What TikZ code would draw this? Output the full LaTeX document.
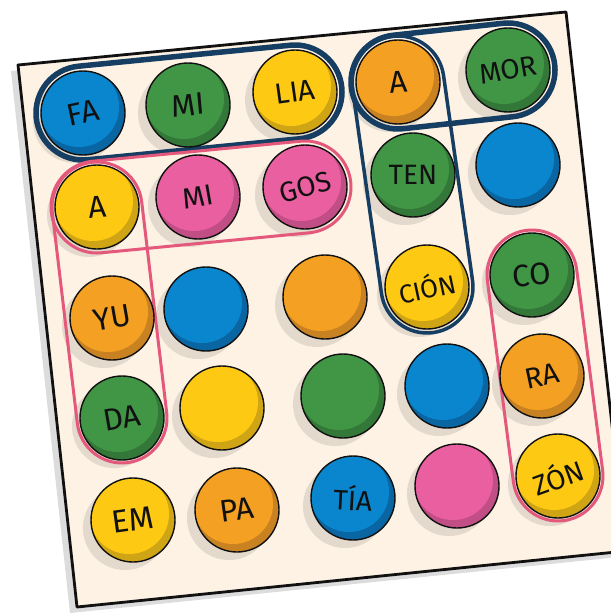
\documentclass[tikz,border=0pt]{standalone}
\usepackage{fontspec}
\setmainfont{Fira Sans}
\usetikzlibrary{calc}
\definecolor{boardc}{HTML}{FDF2E4}
\definecolor{framec}{HTML}{111111}
\definecolor{bshadow}{HTML}{DCDCDC}
\definecolor{ballshadow}{HTML}{E3D9CC}
\definecolor{blueL}{HTML}{0A86CE}\definecolor{blueD}{HTML}{0A66A3}
\definecolor{greenL}{HTML}{419646}\definecolor{greenD}{HTML}{337838}
\definecolor{yellowL}{HTML}{FDC912}\definecolor{yellowD}{HTML}{CFA516}
\definecolor{orangeL}{HTML}{F4A023}\definecolor{orangeD}{HTML}{C98222}
\definecolor{pinkL}{HTML}{EA5FA0}\definecolor{pinkD}{HTML}{C14E85}
\definecolor{navyc}{HTML}{163D62}
\definecolor{pinkc}{HTML}{E4587C}
\newcommand\stad[4]{%
 \draw[#1, rounded corners=#4]
   ($($(#2)!-#4!(#3)$)!#4!90:(#3)$) --
   ($($(#3)!-#4!(#2)$)!#4!-90:(#2)$) --
   ($($(#3)!-#4!(#2)$)!#4!90:(#2)$) --
   ($($(#2)!-#4!(#3)$)!#4!-90:(#3)$) -- cycle;}
\begin{document}
\begin{tikzpicture}[x=1pt,y=-1pt,
  ball/.style={circle, minimum size=84pt, inner sep=0pt, draw=framec, line width=1.4pt,
     fill=#1D, path picture={\fill[#1L] ($(path picture bounding box.center)+(-4,-6)$) circle[radius=40];}},
  word/.style={font=\fontsize{31}{31}\selectfont, text=framec, inner sep=0pt},
  navyline/.style={draw=navyc, line width=5.5pt, line join=round},
  navythin/.style={draw=navyc, line width=3.5pt, line join=round},
  pinkline/.style={draw=pinkc, line width=3pt, line join=round}]
\useasboundingbox (0,0) rectangle (610,615);
% board
\coordinate (bTL) at (18,65);
\coordinate (bTR) at (566,12);
\coordinate (bBR) at (626,551);
\coordinate (bBL) at (77,607);
\fill[bshadow] ($(bTL)+(-7,6)$) -- ($(bTR)+(-7,6)$) -- ($(bBR)+(-7,6)$) -- ($(bBL)+(-7,6)$) -- cycle;
\draw[fill=boardc, draw=framec, line width=2.8pt, line join=round] (bTL) -- (bTR) -- (bBR) -- (bBL) -- cycle;
% ball centres
\coordinate (c11) at (83,113);  \coordinate (c12) at (188,105); \coordinate (c13) at (295,92);
\coordinate (c14) at (398,82);  \coordinate (c15) at (508,70);
\coordinate (c21) at (97,207);  \coordinate (c22) at (198,197); \coordinate (c23) at (305,187);
\coordinate (c24) at (413,175); \coordinate (c25) at (518,165);
\coordinate (c31) at (112,318); \coordinate (c32) at (206,309); \coordinate (c33) at (325,297);
\coordinate (c34) at (427,287); \coordinate (c35) at (532,275);
\coordinate (c41) at (122,418); \coordinate (c42) at (222,408); \coordinate (c43) at (343,396);
\coordinate (c44) at (447,386); \coordinate (c45) at (542,376);
\coordinate (c51) at (133,520); \coordinate (c52) at (237,510); \coordinate (c53) at (353,498);
\coordinate (c54) at (457,486); \coordinate (c55) at (558,476);
% ball shadows
\foreach \c in {11,12,13,14,15,21,22,23,24,25,31,32,33,34,35,41,42,43,44,45,51,52,53,54,55}
  \fill[ballshadow] ($(c\c)+(-8,8)$) circle[radius=42];
% word outlines
\stad{navyline}{c11}{c13}{47pt}
\stad{navyline}{c14}{c15}{47pt}
\stad{navythin}{c14}{c34}{46pt}
\stad{pinkline}{c21}{c23}{46pt}
\stad{pinkline}{c21}{c41}{45pt}
\stad{pinkline}{c35}{c55}{45pt}
% balls
\node[ball=blue,   label={[word,rotate=12]center:FA}]  (FA)   at (c11) {};
\node[ball=green,  label={[word,rotate=5]center:MI}]   (MIa)  at (c12) {};
\node[ball=yellow, label={[word,rotate=8,font=\fontsize{29}{29}\selectfont]center:LIA}]  (LIA)  at (c13) {};
\node[ball=orange, label={[word,rotate=5]center:A}]    (Aa)   at (c14) {};
\node[ball=green,  label={[word,rotate=10,font=\fontsize{28}{28}\selectfont]center:MOR}] (MOR) at (c15) {};
\node[ball=yellow, label={[word,rotate=5]center:A}]    (Ab)   at (c21) {};
\node[ball=pink,   label={[word,rotate=10,font=\fontsize{29}{29}\selectfont]center:MI}] (MIb) at (c22) {};
\node[ball=pink,   label={[word,rotate=15,font=\fontsize{28}{28}\selectfont]center:GOS}] (GOS) at (c23) {};
\node[ball=green,  label={[word,font=\fontsize{28}{28}\selectfont]center:TEN}] (TEN) at (c24) {};
\node[ball=blue]   (b25) at (c25) {};
\node[ball=orange, label={[word,rotate=10]center:YU}]  (YU)   at (c31) {};
\node[ball=blue]   (b32) at (c32) {};
\node[ball=orange] (b33) at (c33) {};
\node[ball=yellow, label={[word,rotate=12,font=\fontsize{26}{26}\selectfont]center:CIÓN}] (CION) at (c34) {};
\node[ball=green,  label={[word,rotate=5]center:CO}]   (CO)   at (c35) {};
\node[ball=green,  label={[word,rotate=10]center:DA}]  (DA)   at (c41) {};
\node[ball=yellow] (b42) at (c42) {};
\node[ball=green]  (b43) at (c43) {};
\node[ball=blue]   (b44) at (c44) {};
\node[ball=orange, label={[word,rotate=12,font=\fontsize{29}{29}\selectfont]center:RA}] (RA) at (c45) {};
\node[ball=yellow, label={[word,rotate=8,font=\fontsize{32}{32}\selectfont]center:EM}] (EM) at (c51) {};
\node[ball=orange, label={[word,rotate=8]center:PA}]   (PA)   at (c52) {};
\node[ball=blue,   label={[word,rotate=-3,font=\fontsize{28}{28}\selectfont]center:TÍA}] (TIA) at (c53) {};
\node[ball=pink]   (b54) at (c54) {};
\node[ball=yellow, label={[word,rotate=20,font=\fontsize{28}{28}\selectfont]center:ZÓN}] (ZON) at (c55) {};
\end{tikzpicture}
\end{document}
